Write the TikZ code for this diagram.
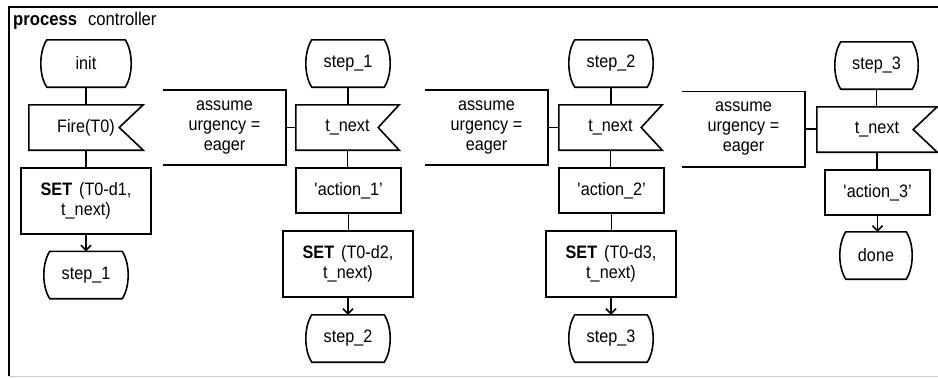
\documentclass[tikz,border=0pt]{standalone}
\usepackage{fontspec}
\setmainfont{Liberation Sans}[FakeStretch=0.9]
\usetikzlibrary{arrows.meta,calc}
\tikzset{
 ln/.style={line width=1.6pt, line join=miter},
 base/.style={inner sep=0pt, align=center, font=\fontsize{18}{20}\selectfont},
 termnode/.style={base, minimum width=84pt, minimum height=47pt},
 signode/.style={base, minimum height=45pt},
 boxnode/.style={base, draw, ln, minimum width=105pt, minimum height=45pt},
 setnode/.style={base, draw, ln, minimum width=130pt, minimum height=66pt},
 cmtnode/.style={base, minimum width=123pt, minimum height=75pt},
 conn/.style={ln},
 arr/.style={ln, -{Straight Barb[length=5pt,width=10pt]}},
 framel/.style={line width=2pt},
}
\newcommand\termoutline[1]{%
 \draw[ln] ([xshift=6pt]#1.north west) -- ([xshift=-6pt]#1.north east)
  .. controls ([xshift=2pt,yshift=-12pt]#1.north east) and ([xshift=2pt,yshift=12pt]#1.south east) .. ([xshift=-6pt]#1.south east)
  -- ([xshift=6pt]#1.south west)
  .. controls ([xshift=-2pt,yshift=12pt]#1.south west) and ([xshift=-2pt,yshift=-12pt]#1.north west) .. cycle;}
\newcommand\sigoutline[2]{%
 \draw[ln] (#1.north west) -- (#1.north east) -- ([xshift=-#2]#1.east) -- (#1.south east) -- (#1.south west) -- cycle;}
\newcommand\cmtoutline[1]{%
 \draw[ln] (#1.north west) -- (#1.north east) -- (#1.south east) -- (#1.south west);}
\begin{document}
\begin{tikzpicture}[x=1pt,y=-1pt]
\useasboundingbox (0,0) rectangle (938,378);
% frame
\coordinate (fbl) at (9,376);
\coordinate (ftl) at (9,6.5);
\coordinate (ftr) at (938,6.5);
\coordinate (fbr) at (938,376.5);
\draw[gray!40, line width=1.5pt] (9,376.5) -- (fbr);
\draw[framel] (fbl) -- (ftl) -- (ftr);
\node[anchor=base west, inner sep=0pt, font=\fontsize{18.5}{20}\selectfont] (title) at (13,25) {\textbf{process}\hspace{11pt}controller};

% column A
\node[termnode, minimum width=90pt] (init) at (86,63.5) {init};
\node[signode, minimum width=114pt] (fire) at (86,127.5) {Fire(T0)};
\node[setnode] (setA) at (86,201) {\textbf{SET}\hspace{7pt}(T0-d1,\\t\_next)};
\node[termnode] (s1A) at (86,275) {step\_1};
\node[cmtnode] (c1) at (224.5,127.5) {assume\\urgency =\\eager};

% column B
\node[termnode] (s1B) at (348,63.5) {step\_1};
\node[signode, minimum width=103pt] (tnB) at (347.5,127.5) {t\_next};
\node[boxnode] (a1) at (348.5,190.5) {\textquotesingle action\_1'};
\node[setnode] (setB) at (348,264) {\textbf{SET}\hspace{7pt}(T0-d2,\\t\_next)};
\node[termnode] (s2B) at (348,338.5) {step\_2};
\node[cmtnode] (c2) at (486.5,127.5) {assume\\urgency =\\eager};

% column C
\node[termnode] (s2C) at (611,63.5) {step\_2};
\node[signode, minimum width=103pt] (tnC) at (610.5,127.5) {t\_next};
\node[boxnode] (a2) at (611.5,190.5) {\textquotesingle action\_2'};
\node[setnode] (setC) at (611,264) {\textbf{SET}\hspace{7pt}(T0-d3,\\t\_next)};
\node[termnode] (s3C) at (611,338.5) {step\_3};
\node[cmtnode] (c3) at (743.5,129) {assume\\urgency =\\eager};

% column D
\node[termnode, minimum width=83pt] (s3D) at (876.5,65.5) {step\_3};
\node[signode, minimum width=120pt] (tnD) at (877,129.5) {t\_next};
\node[boxnode] (a3) at (877.5,192.5) {\textquotesingle action\_3'};
\node[termnode, minimum width=72pt] (done) at (876,255.5) {done};

% outlines
\termoutline{init}\termoutline{s1A}\termoutline{s1B}\termoutline{s2B}
\termoutline{s2C}\termoutline{s3C}\termoutline{s3D}\termoutline{done}
\sigoutline{fire}{24pt}\sigoutline{tnB}{21pt}\sigoutline{tnC}{21pt}\sigoutline{tnD}{24pt}
\cmtoutline{c1}\cmtoutline{c2}\cmtoutline{c3}

% connectors
\draw[conn] (init.south) -- (init.south |- fire.north);
\draw[conn] (fire.south) -- (fire.south |- setA.north);
\draw[arr] (setA.south) -- (setA.south |- s1A.north);

\draw[conn] (s1B.south) -- (s1B.south |- tnB.north);
\draw[conn] (tnB.south) -- (tnB.south |- a1.north);
\draw[conn] (a1.south) -- (a1.south |- setB.north);
\draw[arr] (setB.south) -- (setB.south |- s2B.north);

\draw[conn] (s2C.south) -- (s2C.south |- tnC.north);
\draw[conn] (tnC.south) -- (tnC.south |- a2.north);
\draw[conn] (a2.south) -- (a2.south |- setC.north);
\draw[arr] (setC.south) -- (setC.south |- s3C.north);

\draw[conn] (s3D.south) -- (s3D.south |- tnD.north);
\draw[conn] (tnD.south) -- (tnD.south |- a3.north);
\draw[arr] (a3.south) -- (a3.south |- done.north);

\draw[conn] (c1.east) -- (c1.east -| tnB.west);
\draw[conn] (c2.east) -- (c2.east -| tnC.west);
\draw[conn] (c3.east) -- (c3.east -| tnD.west);
\end{tikzpicture}
\end{document}
